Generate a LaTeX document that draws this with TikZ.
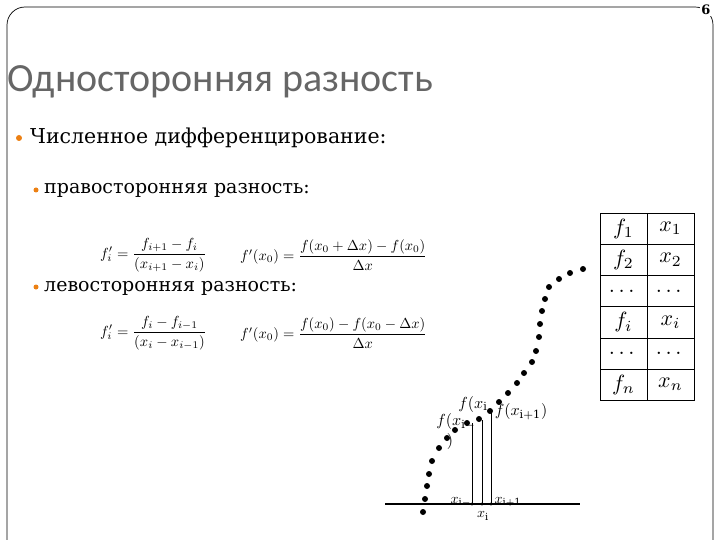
\documentclass[tikz,border=0pt]{standalone}
\usepackage{amsmath}
\usepackage{graphicx}
\usepackage{fontspec}
\setmainfont{DejaVu Serif}
\newfontfamily\titlefont{Carlito}
\begin{document}
\begin{tikzpicture}[x=1pt,y=-1pt,
  dot/.style={circle,fill=black,inner sep=0pt,minimum size=6pt},
  bul/.style={circle,fill=orange!70!brown,inner sep=0pt,minimum size=#1},
  txt/.style={anchor=west,inner sep=0pt},
  cell/.style={minimum width=47pt,minimum height=31.2pt,inner sep=0pt,draw=black,line width=0.5pt}]
\useasboundingbox (0,0) rectangle (720,540);
\begin{scope}
\clip (0,0) rectangle (720,540);
\draw[line width=0.7pt,rounded corners=18pt] (7,7) rectangle (713,580);
\end{scope}
\node[fill=white,inner sep=1pt,font=\bfseries\fontsize{13}{14}\selectfont] (pg) at (706,10) {6};
\node[txt,font=\titlefont\fontsize{40}{42}\selectfont,text=black!60] (title) at (7,82) {Односторонняя разность};
\node[bul=6pt] (b1) at (19,138) {};
\node[txt,font=\fontsize{20.5}{24}\selectfont] (t1) at (30,138) {Численное дифференцирование:};
\node[bul=5pt] (b2) at (36,190) {};
\node[txt,font=\fontsize{19}{22}\selectfont] (t2) at (44,190) {правосторонняя разность:};
\node[bul=5pt] (b3) at (36,287) {};
\node[txt,font=\fontsize{19}{22}\selectfont] (t3) at (44,288) {левосторонняя разность:};
\node[txt] (e1) at (100,255) {\scalebox{1.46}{$f_i'=\dfrac{f_{i+1}-f_i}{(x_{i+1}-x_i)}$}};
\node[txt] (e2) at (240,255) {\scalebox{1.45}{$f'(x_0)=\dfrac{f(x_0+\Delta x)-f(x_0)}{\Delta x}$}};
\node[txt] (e3) at (100,333) {\scalebox{1.46}{$f_i'=\dfrac{f_{i}-f_{i-1}}{(x_{i}-x_{i-1})}$}};
\node[txt] (e4) at (240,333) {\scalebox{1.45}{$f'(x_0)=\dfrac{f(x_0)-f(x_0-\Delta x)}{\Delta x}$}};
\foreach \a/\b [count=\r] in {f_1/x_1,f_2/x_2,\dots/\dots,f_i/x_i,\dots/\dots,f_n/x_n}{
  \node[cell] (L\r) at (623.5,{213+31.2*(\r-0.5)}) {\scalebox{2.2}{$\a$}};
  \node[cell] (R\r) at (670.5,{213+31.2*(\r-0.5)}) {\scalebox{2.2}{$\b$}};
}
\coordinate (ax1) at (385,504); \coordinate (ax2) at (580,504);
\draw[line width=1.2pt] (ax1) -- (ax2);
\coordinate (v1b) at (472,504); \coordinate (v1t) at (472,423);
\coordinate (v2b) at (482,504); \coordinate (v2t) at (482,420);
\coordinate (v3b) at (491,504); \coordinate (v3t) at (491,413);
\draw[line width=0.9pt] (v1b)--(v1t) (v2b)--(v2t) (v3b)--(v3t);
\foreach \p in {v1b,v2b,v3b} \fill (\p) circle (1.6pt);
\foreach \x/\y [count=\k] in {583/269,570/273,559/279,549/287,545/299,542/311,540/324,539/337,536/351,532/362,524/373,517/383,508/393,499/402,490/411,479/419,467/423,455/430,447/438,439/448,432/461,429/474,427/486,425/499,423/512}
  \node[dot] (d\k) at (\x,\y) {};
\begin{scope}[inner sep=0pt]
\node (fi) at (473,404) {\scalebox{1.6}{$f(x_{\mathrm{i}}$}};
\node (fim) at (456,422) {\scalebox{1.6}{$f(x_{\mathrm{i-}}$}};
\node (par) at (450,441) {\scalebox{1.6}{$)$}};
\node (fip) at (521,412) {\scalebox{1.6}{$f(x_{\mathrm{i+1}})$}};
\node (xim) at (461,502) {\scalebox{1.4}{$x_{\mathrm{i-}}$}};
\node (xi) at (483,516) {\scalebox{1.4}{$x_{\mathrm{i}}$}};
\node (xip) at (508,502) {\scalebox{1.4}{$x_{\mathrm{i+1}}$}};
\end{scope}
\end{tikzpicture}
\end{document}
